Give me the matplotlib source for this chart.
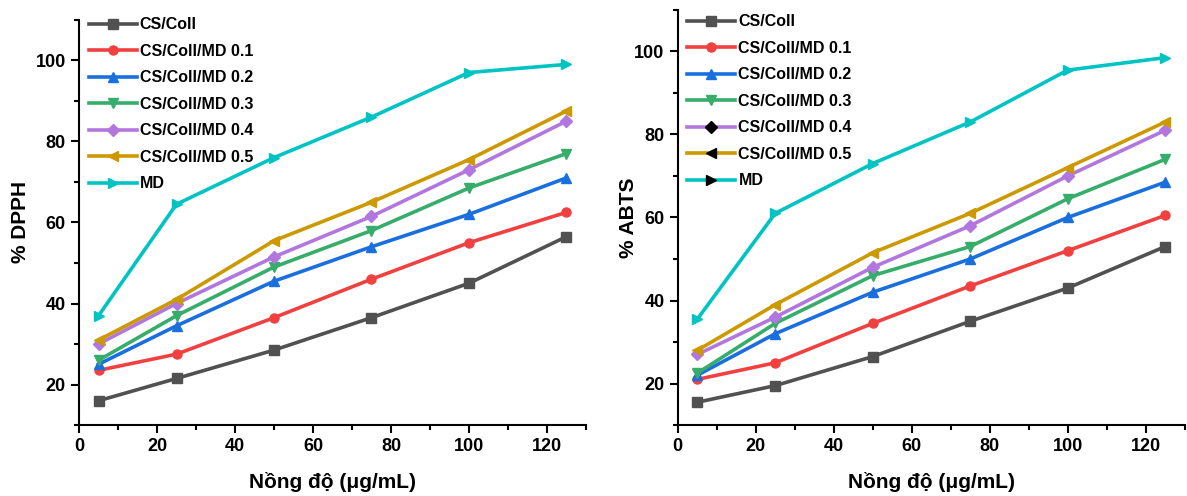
import matplotlib
matplotlib.use("Agg")
import matplotlib.pyplot as plt
from matplotlib.ticker import MultipleLocator

plt.rcParams['font.family'] = ['Liberation Sans', 'DejaVu Sans']
plt.rcParams['font.weight'] = 'bold'

conc = [5, 25, 50, 75, 100, 125]
labels = ["CS/Coll", "CS/Coll/MD 0.1", "CS/Coll/MD 0.2", "CS/Coll/MD 0.3",
          "CS/Coll/MD 0.4", "CS/Coll/MD 0.5", "MD"]
colors = ["#515151", "#F14040", "#1A6FDF", "#37AD6B", "#B177DE", "#CC9900", "#00C4C4"]
markers = ["s", "o", "^", "v", "D", "<", ">"]

dpph_cs = [16, 21.5, 28.5, 36.5, 45, 56.5]
dpph_01 = [23.5, 27.5, 36.5, 46, 55, 62.5]
dpph_02 = [25, 34.5, 45.5, 54, 62, 71]
dpph_03 = [26, 37, 49, 58, 68.5, 77]
dpph_04 = [30, 40, 51.5, 61.5, 73, 85]
dpph_05 = [31, 41, 55.5, 65, 75.5, 87.5]
dpph_md = [37, 64.5, 76, 86, 97, 99]

abts_cs = [15.5, 19.5, 26.5, 35, 43, 53]
abts_01 = [21, 25, 34.5, 43.5, 52, 60.5]
abts_02 = [22, 32, 42, 50, 60, 68.5]
abts_03 = [22.5, 34.5, 46, 53, 64.5, 74]
abts_04 = [27, 36, 48, 58, 70, 81]
abts_05 = [28, 39, 51.5, 61, 72, 83]
abts_md = [35.5, 61, 73, 83, 95.5, 98.5]

dpph = [dpph_cs, dpph_01, dpph_02, dpph_03, dpph_04, dpph_05, dpph_md]
abts = [abts_cs, abts_01, abts_02, abts_03, abts_04, abts_05, abts_md]

fig = plt.figure(figsize=(11.87, 4.96), dpi=100)
ax1 = fig.add_axes([0.0666, 0.143, 0.427, 0.817])
ax2 = fig.add_axes([0.571, 0.143, 0.427, 0.837])


def draw(ax, data, ylabel, black_legend_markers, ylab_x, leg_y):
    for i in range(len(data)):
        ax.plot(conc, data[i], color=colors[i], marker=markers[i], lw=2.6,
                ms=6.5, label=labels[i])
    ax.set_xlim(0, 130)
    ax.set_ylim(10, 110)
    ax.xaxis.set_major_locator(MultipleLocator(20))
    ax.xaxis.set_minor_locator(MultipleLocator(10))
    ax.yaxis.set_major_locator(MultipleLocator(20))
    ax.yaxis.set_minor_locator(MultipleLocator(10))
    ax.set_yticks([20, 40, 60, 80, 100])
    ax.spines['top'].set_visible(False)
    ax.spines['right'].set_visible(False)
    ax.spines['left'].set_linewidth(1.5)
    ax.spines['bottom'].set_linewidth(1.5)
    ax.tick_params(which='major', length=6, width=1.5, labelsize=13)
    ax.tick_params(which='minor', length=3.5, width=1.5)
    for t in ax.get_xticklabels() + ax.get_yticklabels():
        t.set_fontweight('bold')
    ax.set_xlabel("Nồng độ (μg/mL)", fontsize=15, fontweight='bold', labelpad=12)
    ax.set_ylabel(ylabel, fontsize=15, fontweight='bold')
    ax.yaxis.set_label_coords(ylab_x, 0.5)
    leg = ax.legend(loc='upper left', bbox_to_anchor=(0.0, leg_y), frameon=False,
                    fontsize=11.5, handlelength=3.0, handletextpad=0.2,
                    labelspacing=0.72, borderaxespad=0.2)
    for txt in leg.get_texts():
        txt.set_fontweight('bold')
    if black_legend_markers:
        for h in leg.legend_handles[4:]:
            h.set_markerfacecolor('black')
            h.set_markeredgecolor('black')


draw(ax1, dpph, "% DPPH", False, -0.097, 1.03)
draw(ax2, abts, "% ABTS", True, -0.078, 1.013)

fig.savefig("out.png", dpi=100)
